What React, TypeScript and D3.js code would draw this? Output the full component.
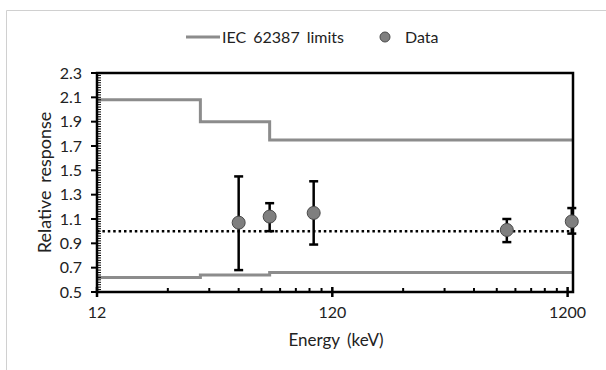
import React, { useEffect, useRef } from "react";
import * as d3 from "d3";

// energies in keV
const energies = [48, 65, 100, 662, 1250];
const responses = [1.07, 1.12, 1.15, 1.01, 1.08];
const errLow = [0.68, 1.0, 0.89, 0.91, 0.98];
const errHigh = [1.45, 1.23, 1.41, 1.1, 1.19];

const limitEnergies = [12, 33, 65, 1265];
const upperLimit = [2.08, 1.9, 1.75, 1.75];
const lowerLimit = [0.62, 0.64, 0.66, 0.66];

const yTicks = [0.5, 0.7, 0.9, 1.1, 1.3, 1.5, 1.7, 1.9, 2.1, 2.3];
const xTicks = [12, 120, 1200];

const FONT = "Lato, 'Open Sans', sans-serif";

const App = () => {
  const svgRef = useRef<SVGSVGElement | null>(null);

  useEffect(() => {
    const width = 606;
    const height = 370;
    const margin = { left: 97, right: 33, top: 73, bottom: 78 };

    const svg = d3.select(svgRef.current);
    svg.selectAll("*").remove();

    const x = d3
      .scaleLog()
      .domain([12, 1265])
      .range([margin.left, width - margin.right]);
    const y = d3
      .scaleLinear()
      .domain([0.5, 2.3])
      .range([height - margin.bottom, margin.top]);

    // outer chart frame (only top/left visible)
    svg
      .append("path")
      .attr("d", `M6.5,${height} V10.5 H${width}`)
      .attr("fill", "none")
      .attr("stroke", "#d0d0d0")
      .attr("stroke-width", 1);

    // limit step lines
    const step = (vals: number[]) =>
      d3
        .line<number>()
        .x((_, i) => x(limitEnergies[i]))
        .y((d) => y(d))
        .curve(d3.curveStepAfter)(vals);

    [upperLimit, lowerLimit].forEach((vals) => {
      svg
        .append("path")
        .attr("d", step(vals))
        .attr("fill", "none")
        .attr("stroke", "#8c8c8c")
        .attr("stroke-width", 3);
    });

    // reference dotted line at 1.0
    svg
      .append("line")
      .attr("x1", x(12))
      .attr("x2", x(1265))
      .attr("y1", y(1))
      .attr("y2", y(1))
      .attr("stroke", "black")
      .attr("stroke-width", 2.5)
      .attr("stroke-dasharray", "2.5,2.9");

    // frame of plot area
    svg
      .append("rect")
      .attr("x", margin.left)
      .attr("y", margin.top)
      .attr("width", width - margin.right - margin.left)
      .attr("height", height - margin.bottom - margin.top)
      .attr("fill", "none")
      .attr("stroke", "black")
      .attr("stroke-width", 2.5);

    // y minor ticks (inside)
    const minor = d3.range(0, 91).map((i) => 0.5 + i * 0.02);
    svg
      .append("g")
      .selectAll("line")
      .data(minor)
      .enter()
      .append("line")
      .attr("x1", margin.left)
      .attr("x2", margin.left + 4)
      .attr("y1", (d) => y(d))
      .attr("y2", (d) => y(d))
      .attr("stroke", "black")
      .attr("stroke-width", 1);

    // y major ticks + labels
    const yg = svg.append("g");
    yg.selectAll("line")
      .data(yTicks)
      .enter()
      .append("line")
      .attr("x1", margin.left - 6)
      .attr("x2", margin.left)
      .attr("y1", (d) => y(d))
      .attr("y2", (d) => y(d))
      .attr("stroke", "black")
      .attr("stroke-width", 2);
    yg.selectAll("text")
      .data(yTicks)
      .enter()
      .append("text")
      .attr("x", 82)
      .attr("y", (d) => y(d))
      .attr("dy", "0.35em")
      .attr("text-anchor", "end")
      .style("font-family", FONT)
      .style("font-size", "16px")
      .attr("fill", "#222")
      .text((d) => d.toFixed(1));

    // x minor ticks
    const xMinor: number[] = [];
    [12, 120].forEach((b) => {
      for (let k = 2; k <= 9; k++) xMinor.push(b * k);
    });
    svg
      .append("g")
      .selectAll("line")
      .data(xMinor)
      .enter()
      .append("line")
      .attr("x1", (d) => x(d))
      .attr("x2", (d) => x(d))
      .attr("y1", y(0.5) - 4)
      .attr("y2", y(0.5))
      .attr("stroke", "black")
      .attr("stroke-width", 2);

    const xg = svg.append("g");
    xg.selectAll("line")
      .data(xTicks)
      .enter()
      .append("line")
      .attr("x1", (d) => x(d))
      .attr("x2", (d) => x(d))
      .attr("y1", y(0.5) - 5)
      .attr("y2", y(0.5) + 5)
      .attr("stroke", "black")
      .attr("stroke-width", 2.5);
    xg.selectAll("text")
      .data(xTicks)
      .enter()
      .append("text")
      .attr("x", (d) => x(d))
      .attr("y", 318)
      .attr("text-anchor", "middle")
      .style("font-family", FONT)
      .style("font-size", "16px")
      .attr("fill", "#222")
      .text((d) => d);

    // error bars
    const eb = svg.append("g");
    energies.forEach((e, i) => {
      const cx = x(e);
      eb.append("line")
        .attr("x1", cx)
        .attr("x2", cx)
        .attr("y1", y(errLow[i]))
        .attr("y2", y(errHigh[i]))
        .attr("stroke", "black")
        .attr("stroke-width", 2.5);
      [errLow[i], errHigh[i]].forEach((v) => {
        eb.append("line")
          .attr("x1", cx - 4.5)
          .attr("x2", cx + 4.5)
          .attr("y1", y(v))
          .attr("y2", y(v))
          .attr("stroke", "black")
          .attr("stroke-width", 2.5);
      });
    });

    // data points
    svg
      .append("g")
      .selectAll("circle")
      .data(energies)
      .enter()
      .append("circle")
      .attr("cx", (d) => x(d))
      .attr("cy", (_, i) => y(responses[i]))
      .attr("r", 6.5)
      .attr("fill", "#7f7f7f")
      .attr("stroke", "#4a4a4a")
      .attr("stroke-width", 1);

    // axis titles
    svg
      .append("text")
      .attr("x", 336)
      .attr("y", 346)
      .attr("text-anchor", "middle")
      .style("font-family", FONT)
      .style("font-size", "17px")
      .style("word-spacing", "3px")
      .attr("fill", "#222")
      .text("Energy (keV)");

    svg
      .append("text")
      .attr("transform", `translate(51,${(margin.top + height - margin.bottom) / 2}) rotate(-90)`)
      .attr("text-anchor", "middle")
      .style("font-family", FONT)
      .style("font-size", "18px")
      .style("word-spacing", "3px")
      .attr("fill", "#222")
      .text("Relative response");

    // legend
    const lg = svg.append("g");
    lg.append("line")
      .attr("x1", 186)
      .attr("x2", 220)
      .attr("y1", 37)
      .attr("y2", 37)
      .attr("stroke", "#8c8c8c")
      .attr("stroke-width", 3);
    lg.append("text")
      .attr("x", 222)
      .attr("y", 37)
      .attr("dy", "0.35em")
      .style("font-family", FONT)
      .style("font-size", "16px")
      .style("word-spacing", "3px")
      .attr("fill", "#222")
      .text("IEC 62387 limits");
    lg.append("circle")
      .attr("cx", 385)
      .attr("cy", 37)
      .attr("r", 5)
      .attr("fill", "#7f7f7f")
      .attr("stroke", "#4a4a4a")
      .attr("stroke-width", 1);
    lg.append("text")
      .attr("x", 405)
      .attr("y", 37)
      .attr("dy", "0.35em")
      .style("font-family", FONT)
      .style("font-size", "16px")
      .attr("fill", "#222")
      .text("Data");
  }, []);

  return (
    <svg
      ref={svgRef}
      width={606}
      height={370}
      style={{ position: "absolute", left: 0, top: 0, background: "white" }}
    ></svg>
  );
};

export default App;
